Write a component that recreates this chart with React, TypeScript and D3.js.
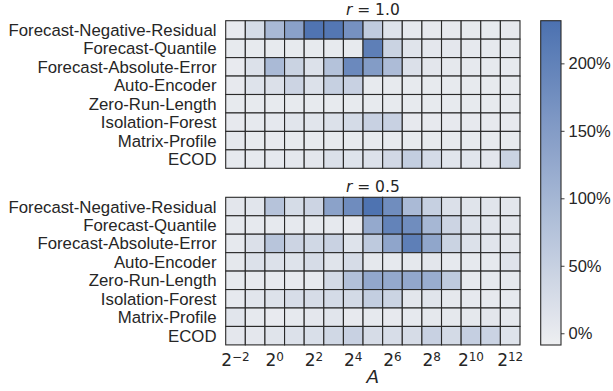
import React, { useEffect, useRef } from 'react';
import * as d3 from 'd3';

const methods = [
  'Forecast-Negative-Residual',
  'Forecast-Quantile',
  'Forecast-Absolute-Error',
  'Auto-Encoder',
  'Zero-Run-Length',
  'Isolation-Forest',
  'Matrix-Profile',
  'ECOD',
];

// exponent of A (2^k)
const exponents = d3.range(-2, 13);
const tickExponents = [-2, 0, 2, 4, 6, 8, 10, 12];
const cbarTicks = [0, 50, 100, 150, 200];

// relative improvement in %, rows follow `methods`, columns follow `exponents`
const valuesR10 = [
  [0, 28, 94, 140, 225, 220, 170, 60, 15, 3, 2, 2, 1, 1, 2],
  [1, 1, 1, 1, 1, 1, 1, 205, 45, 12, 6, 6, 3, 3, 3],
  [0, 18, 92, 45, 18, 78, 185, 150, 88, 20, 8, 5, 3, 3, 3],
  [2, 15, 20, 42, 18, 50, 48, 1, 1, 1, 1, 1, 1, 1, 1],
  [1, 1, 1, 1, 1, 1, 1, 1, 1, 1, 1, 1, 1, 1, 1],
  [2, 3, 4, 10, 10, 18, 30, 48, 48, 2, 2, 2, 2, 2, 2],
  [5, 1, 2, 1, 1, 1, 1, 1, 1, 1, 1, 1, 1, 1, 1],
  [3, 3, 4, 6, 8, 20, 15, 18, 35, 55, 30, 10, 10, 8, 45],
];

const valuesR05 = [
  [8, 10, 75, 28, 42, 138, 180, 228, 178, 92, 50, 20, 12, 10, 8],
  [3, 3, 3, 3, 3, 3, 2, 125, 198, 178, 98, 42, 18, 10, 8],
  [3, 20, 72, 42, 36, 46, 15, 62, 132, 205, 130, 45, 18, 10, 8],
  [5, 18, 18, 15, 27, 12, 27, 5, 3, 5, 8, 3, 3, 3, 14],
  [3, 2, 2, 2, 3, 32, 80, 128, 125, 128, 118, 62, 3, 3, 3],
  [3, 10, 16, 25, 27, 30, 32, 55, 43, 8, 12, 5, 3, 3, 3],
  [10, 3, 0, 3, 6, 10, 2, 3, 2, 3, 5, 5, 5, 8, 5],
  [6, 6, 12, 18, 22, 36, 48, 27, 25, 27, 48, 32, 52, 44, 15],
];

const panels = [
  { title: '1.0', values: valuesR10 },
  { title: '0.5', values: valuesR05 },
];

const vmin = -8.7;
const vmax = 231.6;

const App: React.FC = () => {
  const svgRef = useRef<SVGSVGElement>(null);

  useEffect(() => {
    if (!svgRef.current) return;
    const svg = d3.select(svgRef.current);
    svg.selectAll('*').remove();

    const textColor = '#262626';
    const lineColor = '#2a2a2a';
    const sans = '"Liberation Sans", Arial, sans-serif';
    const dejavu = '"DejaVu Sans", sans-serif';

    const color = d3
      .scaleLinear<string>()
      .domain([vmin, vmax])
      .range(['#eeeff1', '#4c71b0'])
      .interpolate(d3.interpolateRgb);

    const x = d3.scaleBand<number>().domain(exponents).range([225.7, 520]);
    const panelTops = [20.7, 197.3];
    const panelHeight = 147.6;

    panels.forEach((p, pi) => {
      const top = panelTops[pi];
      const y = d3.scaleBand<string>().domain(methods).range([top, top + panelHeight]);
      const g = svg.append('g');

      const cells = p.values.flatMap((row, ri) =>
        row.map((v, ci) => ({ method: methods[ri], exp: exponents[ci], v }))
      );

      g.selectAll('rect.cell')
        .data(cells)
        .enter()
        .append('rect')
        .attr('class', 'cell')
        .attr('x', (d) => x(d.exp)!)
        .attr('y', (d) => y(d.method)!)
        .attr('width', x.bandwidth())
        .attr('height', y.bandwidth())
        .attr('fill', (d) => color(d.v))
        .attr('stroke', lineColor)
        .attr('stroke-width', 1.1);

      // row labels
      g.selectAll('text.ylab')
        .data(methods)
        .enter()
        .append('text')
        .attr('class', 'ylab')
        .attr('x', 216.5)
        .attr('y', (d) => y(d)! + y.bandwidth() / 2)
        .attr('dy', '0.36em')
        .attr('text-anchor', 'end')
        .attr('font-family', sans)
        .attr('font-size', 16.8)
        .attr('fill', textColor)
        .text((d) => d);

      // title r = ...
      const t = g
        .append('text')
        .attr('x', (225.7 + 520) / 2)
        .attr('y', top - 5.8)
        .attr('text-anchor', 'middle')
        .attr('font-family', dejavu)
        .attr('font-size', 15.5)
        .attr('fill', textColor);
      t.append('tspan').attr('font-style', 'italic').text('r');
      t.append('tspan').text(` = ${p.title}`);

      if (pi === panels.length - 1) {
        const base = top + panelHeight + 21;
        const xt = g
          .selectAll('text.xlab')
          .data(tickExponents)
          .enter()
          .append('text')
          .attr('class', 'xlab')
          .attr('x', (d) => x(d)! + x.bandwidth() / 2)
          .attr('y', base)
          .attr('text-anchor', 'middle')
          .attr('font-family', dejavu)
          .attr('font-size', 17)
          .attr('fill', textColor);
        xt.append('tspan').text('2');
        xt.append('tspan')
          .attr('font-size', 12)
          .attr('dy', -4.5)
          .text((d) => (d < 0 ? `\u2212${-d}` : `${d}`));

        g.append('text')
          .attr('x', (225.7 + 520) / 2)
          .attr('y', base + 17)
          .attr('text-anchor', 'middle')
          .attr('font-family', dejavu)
          .attr('font-style', 'italic')
          .attr('font-size', 18.5)
          .attr('fill', textColor)
          .text('A');
      }
    });

    // colorbar
    const cb = { x: 540.7, w: 20.3, top: 20.7, bottom: 345 };
    const cy = d3.scaleLinear().domain([vmin, vmax]).range([cb.bottom, cb.top]);
    const defs = svg.append('defs');
    const grad = defs
      .append('linearGradient')
      .attr('id', 'cbar-grad')
      .attr('x1', 0)
      .attr('y1', 1)
      .attr('x2', 0)
      .attr('y2', 0);
    d3.range(0, 1.0001, 0.1).forEach((s) => {
      grad
        .append('stop')
        .attr('offset', `${s * 100}%`)
        .attr('stop-color', color(vmin + s * (vmax - vmin)));
    });
    svg
      .append('rect')
      .attr('x', cb.x)
      .attr('y', cb.top)
      .attr('width', cb.w)
      .attr('height', cb.bottom - cb.top)
      .attr('fill', 'url(#cbar-grad)')
      .attr('stroke', lineColor)
      .attr('stroke-width', 1.1);

    const axis = svg
      .append('g')
      .attr('transform', `translate(${cb.x + cb.w},0)`)
      .call(
        d3
          .axisRight(cy)
          .tickValues(cbarTicks)
          .tickSize(3.5)
          .tickPadding(4)
          .tickFormat((d) => `${d}%`)
      );
    axis.select('.domain').remove();
    axis.selectAll('line').attr('stroke', textColor).attr('stroke-width', 0.9);
    axis
      .selectAll('text')
      .attr('font-family', sans)
      .attr('font-size', 16.5)
      .attr('fill', textColor);
  }, []);

  return (
    <svg
      ref={svgRef}
      width={613}
      height={391}
      style={{ position: 'absolute', left: 0, top: 0, background: '#fff' }}
    />
  );
};

export default App;
